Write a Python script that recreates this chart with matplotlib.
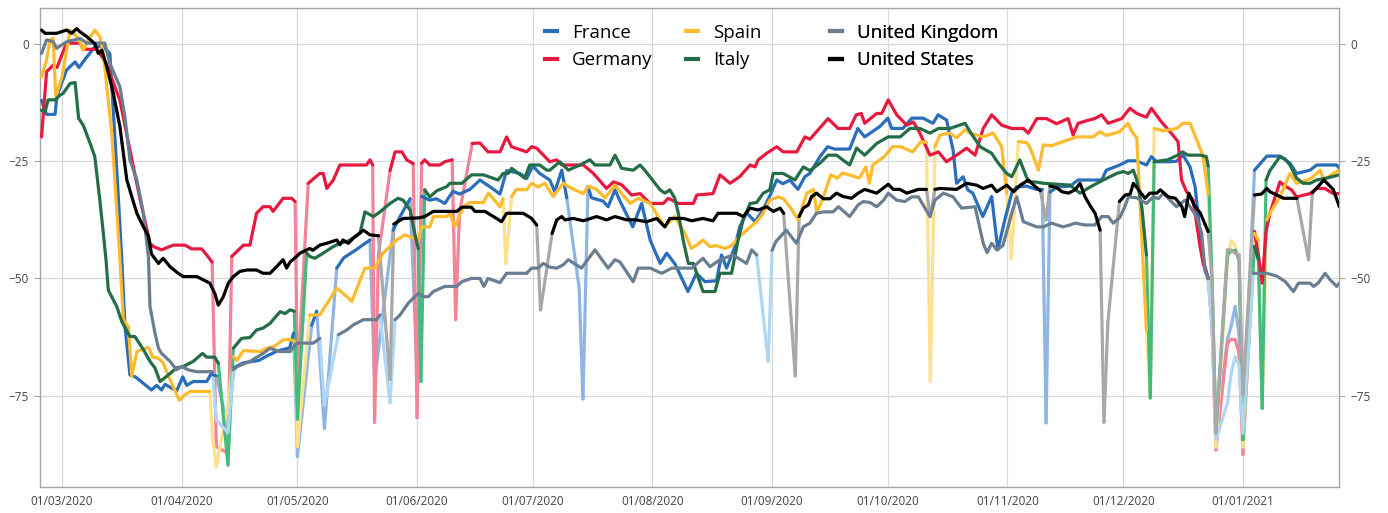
import numpy as np
import pandas as pd
import matplotlib
matplotlib.use("Agg")
import matplotlib.pyplot as plt
import matplotlib.dates as mdates
from matplotlib.collections import LineCollection
from matplotlib.lines import Line2D

# Workplace mobility change vs baseline (%), weekday readings.
# Day numbers count from 01/03/2020; "hol" lists mark holiday readings,
# whose connecting segments are drawn in the lighter shade.
START = pd.Timestamp("2020-03-01")

france = [(-5.3,-12),(-4,-15),(-1.8,-15),(-1.3,-11),(1.2,-5.5),(3.4,-3.8),(4.4,-5),(6.2,-3),(8.5,-0.6),(10.6,-0.5),(12.4,-2),(14,-24),(15.5,-46),(16.3,-60),(17.6,-70.6),(19,-71),(23.2,-73.8),(24.5,-72.8),(25.8,-73.8),(26.7,-72.6),(29.7,-74),(31.3,-71),(32.3,-72.8),(34,-72),(37.5,-72),(38.6,-70.4),(40,-70.8),(43,-82),(44.6,-69),(47,-68),(51,-67.5),(53,-66.6),(55.7,-65.5),(59,-64.8),(60,-61.7),(61,-88),(64.7,-60),(66,-57),(68,-82),(71.2,-47.8),(73,-45.6),(76,-44),(79.8,-41.8),(81,-72),(85.8,-39.7),(87.6,-36.8),(90.2,-33),(92,-70),(93.2,-32.5),(95.3,-33.3),(97,-33),(99.2,-34),(101.3,-31.4),(103,-32),(105.7,-31),(108.3,-29),(111,-30.5),(113.5,-32),(115.2,-27),(118.7,-27.6),(120.4,-28.7),(122,-26),(123.8,-27.6),(126.4,-29),(127.7,-31.5),(129.5,-26.9),(130.8,-32.8),(134,-52),(135,-75.7),(136.3,-30.4),(137.2,-32.8),(140.2,-33.5),(141.5,-34.7),(143.3,-31.1),(144.6,-33.5),(147.9,-39),(150.2,-34),(152.4,-41.8),(155,-46.8),(156.7,-44.6),(158.9,-47),(162.2,-52.8),(164.4,-48.9),(166.6,-50.7),(169.6,-50.5),(170.9,-45),(172.2,-47.8),(174.4,-43.2),(175.6,-39),(177.4,-36),(179.6,-37.9),(181.6,-35.4),(183.4,-32.4),(185.2,-29),(186.8,-29.8),(188.6,-29),(190.7,-31),(192.5,-28.3),(193.8,-27.6),(196.4,-24),(198.4,-21.9),(200.2,-22.4),(204.1,-22.4),(206.2,-18),(208,-19.8),(211.9,-17.6),(214,-15.8),(215,-18),(217.9,-18),(220.2,-15.8),(223.1,-15.8),(225.7,-16.9),(227,-15.1),(229.2,-16.2),(230.9,-22.6),(231.8,-29.7),(233.5,-28.3),(234.7,-31.1),(236,-31.8),(238.6,-36.8),(240.9,-32.5),(242.5,-43.9),(244.3,-37.5),(246.1,-31.8),(247.3,-30.5),(249.9,-30.3),(252.5,-31),(254,-31),(255,-80.8),(256,-31.6),(257.8,-30.5),(261.2,-30.3),(263.3,-29),(269.4,-29),(270.6,-26.9),(274.1,-25.8),(276.2,-24.9),(278.4,-24.9),(281,-25.8),(282.3,-24),(283.6,-25.1),(287.1,-25.1),(288.8,-25),(290.5,-23.7),(292.3,-26.2),(293.6,-30.4),(294.9,-40.3),(295.7,-46),(297,-50),(298,-60),(299,-83.7),(302,-63),(303,-60),(304,-56),(305,-62),(306,-83),(309,-26.9),(312.2,-23.9),(315.6,-23.9),(318.2,-25.4),(319.9,-27.6),(323.4,-26.9),(325.1,-25.8),(330.3,-25.8),(331,-26.5)]
france_hol = [43, 61, 68, 81, 92, 134, 135, 255, 298, 299, 302, 303, 304, 305, 306]

germany = [(-5.3,-19.8),(-4,-5.9),(-2.3,-4.5),(-1.3,-5),(0.3,-1.6),(1.2,0.2),(4.7,0.2),(5.5,-1.1),(9,-1.1),(11.4,-4),(15,-12),(17.6,-22.6),(20.2,-33),(22.8,-42.5),(23.7,-43.2),(25.8,-43.9),(28.8,-42.9),(31.9,-42.9),(33.6,-43.7),(36.2,-43.7),(37.5,-45),(38.9,-46.5),(40,-85.9),(43,-87.3),(44,-45.3),(47,-42.9),(48.7,-42.9),(50.4,-36.1),(52.1,-34.7),(53.9,-34.7),(54.7,-35.7),(57.3,-32.9),(59.5,-32.9),(60.4,-33.6),(61,-72),(63.8,-29.7),(66.8,-27.6),(67.7,-27.6),(68.6,-30.8),(70.3,-29),(72,-25.8),(78.9,-25.8),(79.8,-24.7),(80.5,-25.8),(81,-80.7),(82,-45),(85,-27),(86.3,-23),(88.1,-23),(89.3,-24.7),(91,-25.5),(92,-79.7),(93.2,-25.4),(94,-24.7),(95.3,-25.8),(97.9,-25.8),(99.2,-25.1),(101.1,-24.7),(102,-58.8),(103,-36),(106.3,-21.2),(108.3,-21.1),(110.4,-23),(113.5,-23),(115.2,-19.8),(116.5,-21.9),(120.4,-23),(121.7,-21.9),(123,-22.2),(126.4,-25.1),(128.2,-24.7),(129.5,-25.8),(135.1,-25.8),(137.7,-27.6),(141.1,-30.8),(142.9,-29.4),(145,-30),(147.6,-32.2),(149.8,-31.9),(152.4,-34),(155.8,-34),(157.1,-32.9),(159.7,-34),(163.6,-34),(164.5,-32.2),(168.7,-31.9),(170.5,-27.9),(173.1,-29.7),(175.6,-28.3),(178.3,-25.8),(179.6,-26.2),(180.4,-24.7),(182.6,-23.3),(185.2,-21.9),(186.9,-23),(190.4,-23),(192.5,-19.8),(193.8,-20.3),(195.5,-18.7),(198.5,-15.9),(201.1,-18),(204.1,-18),(205.8,-15.1),(207.1,-14.8),(208,-16.9),(211.1,-14.8),(212.4,-14.8),(214.1,-11.9),(216.3,-15.1),(218.9,-17.3),(220.6,-16.6),(222.3,-19),(224.9,-23.7),(227.1,-23),(229.2,-25.1),(231.8,-23.7),(234.4,-22.2),(236.6,-23.7),(238.7,-18),(240.9,-15.1),(243.5,-17.3),(246.1,-18),(249.1,-18),(250.4,-19),(252.6,-15.9),(255.1,-15.9),(257.7,-17),(260.7,-15.9),(262,-19.4),(263.3,-16.9),(265.3,-16.4),(267.6,-15.9),(269.4,-15.1),(271.1,-16.9),(274.6,-15.9),(276.7,-13.7),(278.5,-14.8),(281,-15.6),(282.3,-13.7),(284.5,-16.2),(287.1,-18.7),(289.2,-20.8),(290.1,-29),(291.4,-31.5),(293.1,-33.3),(294.9,-43.2),(295.7,-46.8),(297,-50),(298,-60),(299,-86.6),(302,-63.8),(303,-63),(304,-63.1),(305,-66),(306,-87.6),(309,-40),(310,-45),(311,-51),(312,-40),(313,-36.1),(315.6,-29.4),(316.9,-30.3),(318.6,-31.1),(319.9,-32.6),(323.4,-31.9),(325.1,-30.8),(327.2,-30.8),(329.4,-31.9),(331,-31.9)]
germany_hol = [40, 43, 61, 81, 82, 92, 102, 103, 298, 299, 302, 303, 304, 305, 306]

spain = [(-5.3,-7),(-4,-3.4),(-3.1,0.9),(-2.3,1.2),(-1.6,-11.2),(0,-7),(1.2,-1.3),(2.1,3),(2.9,2.3),(4,1.5),(5.5,-1.3),(6.8,0.9),(8.5,3),(9.8,1.6),(10.7,-2),(12.9,-19),(15,-46),(15.9,-58.8),(17.2,-60.3),(18.1,-70.9),(19.4,-65.6),(22.4,-64.7),(23.5,-66.8),(24.9,-67),(26.2,-68),(28,-71.6),(30.4,-76),(31.9,-74.8),(33.2,-74.1),(38.3,-74.1),(39,-83.7),(40,-90.1),(43,-77),(44.4,-66.7),(45.3,-67.5),(47,-65.4),(51.3,-65.6),(53,-64.9),(55,-64.5),(57.3,-63.1),(59.1,-63),(60.4,-63.5),(61,-85.9),(64.2,-57.8),(66.8,-57.8),(71.2,-52.1),(72.9,-53.2),(75.1,-54.9),(78.5,-47.8),(81.1,-47.8),(83.2,-44.6),(86.7,-41.8),(88.9,-40.7),(92.3,-41.8),(93.2,-39),(95.3,-39),(96.2,-36.8),(99.7,-36.8),(100.5,-36.1),(101.8,-39),(104,-34.7),(105.7,-33.8),(109.2,-33.8),(110.5,-31.8),(113.5,-34.7),(114.3,-33),(115,-46.8),(116.5,-32.5),(117.8,-31),(120.4,-31.1),(121.7,-29.7),(123.3,-30.5),(125.1,-29.7),(127.3,-32.5),(128.2,-31.5),(129.9,-29.7),(132.1,-30.8),(135.1,-31.9),(136.4,-30.3),(138.5,-31),(140.7,-32.8),(143.3,-30.1),(144.6,-31.5),(147.2,-34),(149.3,-32.9),(152.4,-34),(154.5,-36.8),(156.2,-39),(158.8,-36.8),(161.4,-40.4),(163.1,-43.6),(164.4,-42.9),(166.1,-41.8),(167.9,-43.2),(169.6,-43),(171.8,-43.6),(173.5,-43),(175.2,-41.4),(177.4,-39.7),(180,-37.9),(181.7,-36.1),(183.4,-33.3),(185.6,-32.6),(186.9,-33),(188.6,-34.7),(190.8,-37.5),(193,-31.8),(194.7,-31),(195.6,-36),(197.3,-32.6),(199.2,-27.9),(200.9,-28.6),(202.3,-27.5),(204.4,-28),(206.6,-28.6),(208.3,-26.2),(209.2,-29.7),(210.1,-25.8),(213.1,-24),(215.2,-21.9),(217.4,-21.9),(220.4,-23),(222.6,-20.8),(224,-21),(225,-72),(226.2,-21.9),(227.5,-19.4),(230.1,-19),(231.8,-20),(234,-18.3),(235.3,-19),(238.7,-19.8),(241.3,-19),(243.5,-21.9),(244.8,-31.8),(246,-45.7),(247.8,-20.8),(250,-21),(250.8,-22),(253,-26.9),(254.3,-21.5),(256.4,-21.7),(259.4,-20.8),(262.9,-19.8),(264.6,-19.8),(267.2,-19.8),(268.9,-18.7),(270.6,-19.5),(274.1,-18.7),(276.2,-16.9),(277.5,-19),(278.5,-20),(281,-61),(282,-75.2),(283,-18),(285.4,-18.5),(288.8,-18),(290.5,-16.9),(292.3,-16.9),(294.4,-21.2),(295.7,-24),(297,-32),(298,-55),(299,-86),(302,-46),(303,-42),(304,-43),(305,-46),(306,-86),(309,-40.4),(310,-41.8),(311,-77.3),(312.2,-37.5),(313,-36.1),(315.6,-32.6),(318.2,-27.6),(319.9,-29.7),(321.6,-29.3),(323.8,-28.6),(326,-26.9),(327,-29),(329.4,-27.6),(331,-26.9)]
spain_hol = [39, 40, 43, 61, 115, 225, 246, 282, 298, 299, 302, 303, 304, 305, 306, 311]

italy = [(-5.3,-14.1),(-4.4,-14.5),(-3.6,-11.9),(-1.8,-11.9),(-0.5,-10.9),(0.3,-10.5),(2.1,-8.4),(3.4,-8.2),(4.3,-15.8),(5.5,-17.3),(7.3,-21.2),(8.5,-24),(9.8,-33.3),(10.7,-40.3),(11.4,-46),(12,-52.5),(14.2,-56),(15.5,-59.2),(17.6,-62.4),(18.9,-62.4),(21.1,-65.2),(22.8,-67.7),(24.1,-69.1),(25.4,-72),(27.1,-70.9),(29.7,-69.1),(31.4,-68.8),(34,-67.7),(36.4,-66),(37.5,-66.8),(39.6,-66.8),(40.5,-68.1),(43,-89.8),(44.4,-64.9),(46.5,-62.8),(48.7,-62.6),(50.4,-61),(52.1,-60.6),(53.9,-59.6),(56.5,-57.1),(57.8,-57.5),(59.1,-56.7),(60.2,-57),(61,-80),(63.4,-44.6),(64.2,-45.3),(65.5,-45.7),(67.7,-44.6),(70.3,-43.2),(72,-42.5),(74.2,-42),(77.2,-40.4),(78.5,-35.8),(80.7,-36.8),(82.4,-35.8),(85,-34),(87.1,-32.9),(88.4,-33.3),(90.2,-35.4),(91.4,-40.4),(92.3,-43.6),(93,-72),(94,-31.1),(95.3,-32.6),(97.1,-31.3),(99.7,-30.4),(100.5,-29.7),(103.6,-29.7),(106.1,-27.9),(109.2,-27.9),(113,-29),(114.3,-27.6),(115.6,-27.6),(116.5,-26.5),(119.9,-28.6),(121.2,-25.8),(123.8,-25.8),(125.6,-26.9),(126.4,-26.9),(129,-25.1),(131.2,-26.9),(134.2,-25.8),(136.8,-24.7),(138.1,-25.8),(142,-25.8),(143.3,-23.7),(145,-26.5),(148,-26.9),(149.8,-25.8),(151,-26.9),(155,-31.1),(156.2,-31.8),(157.5,-31.1),(158.8,-32.9),(159.7,-36.1),(161,-42),(162.3,-46.8),(163.6,-46.8),(166.1,-52.8),(169.2,-52.8),(170.5,-48.9),(173.5,-48.9),(175.2,-41.8),(176.5,-37.5),(178.3,-34),(180,-33.8),(181.7,-31.8),(183.4,-31.1),(184.3,-27.6),(186.9,-27.6),(189.9,-29),(192.1,-26.2),(193.8,-27),(196.4,-25.4),(198.5,-23.7),(200.7,-23.7),(204.1,-25.8),(205.9,-22.2),(208,-23.7),(211.1,-21.2),(214.1,-19.8),(217.2,-19.8),(219.7,-18),(222.3,-18),(224.9,-19),(227.1,-18),(230.1,-18),(234,-16.9),(235.3,-18.7),(237.9,-21.9),(240.9,-23.3),(242.6,-25.4),(244.8,-27.6),(246.1,-28.3),(248.2,-24.7),(250.4,-29.4),(252.1,-29.4),(254.3,-29.7),(261.2,-30.1),(263.8,-31.8),(266.4,-30.5),(269.8,-29),(273.3,-27.6),(275,-27.2),(276.3,-27.6),(277.6,-26.9),(278.5,-29),(279.8,-34.7),(281,-45),(282,-75.5),(283,-25.1),(286.5,-24.7),(289.1,-23.7),(290.4,-23),(291.7,-23.7),(295,-23.7),(296.5,-24),(297,-26),(298,-50),(299,-83),(302,-45),(303,-44),(304,-44),(305,-46),(306,-84.4),(309,-43.2),(310,-46),(311,-77.7),(312,-29),(313,-27),(315.6,-24),(316.9,-24.5),(318.2,-25.8),(319.9,-28.6),(321.6,-29.7),(323.4,-29.7),(325.1,-29),(327.6,-28.6),(331,-27.9)]
italy_hol = [43, 61, 93, 282, 298, 299, 302, 303, 304, 305, 306, 311]

uk = [(-5.3,-2),(-4,0.9),(-2.3,0.5),(-1.4,-0.9),(1.2,0.5),(4.7,1.2),(6.4,0.2),(11.1,0.2),(12.4,-4.1),(15,-9.1),(16.3,-15.5),(17.6,-24.7),(19.4,-29),(21.1,-36.1),(22.4,-45.5),(22.8,-56),(24.1,-61.7),(25,-64.9),(25.8,-66),(28,-67.7),(29.7,-69.5),(31,-68.8),(32.7,-69.5),(34.9,-69.9),(39,-69.9),(40,-80.2),(43,-82.9),(44.4,-69.5),(45.4,-68.8),(48.7,-67.7),(52.1,-66),(53.9,-64.9),(56.5,-65.6),(59.1,-65.6),(60.8,-63.8),(65.1,-63.8),(66.8,-62.8),(68,-77),(71.6,-62),(73.8,-61),(75.5,-59.9),(78.1,-58.8),(81.5,-58.8),(82.4,-57.8),(85,-76.5),(86.3,-58.8),(87.6,-57.8),(89.7,-55.3),(92.3,-53.2),(93.6,-53.9),(94.9,-53.9),(96.2,-52.8),(99.2,-51.7),(102.3,-51.7),(103.6,-50.7),(106.1,-50),(108.3,-50),(109.3,-51.7),(110.4,-50),(113.5,-50.9),(115.2,-48.9),(120.4,-48.9),(121.7,-47.8),(123.4,-47.8),(124.7,-46.8),(126.4,-47.6),(128.2,-47.8),(129.9,-47.1),(131.2,-46),(134.6,-47.8),(138.1,-43.9),(141.5,-47.8),(143.3,-46),(144.6,-46.5),(148,-50.7),(149.3,-47.8),(152.4,-47.8),(155.4,-48.9),(158,-47.8),(163.2,-47.8),(166.1,-45.7),(167.9,-47.5),(170.5,-46),(173.9,-45),(177.4,-46.8),(178.7,-43.9),(180,-45),(183,-67.7),(184,-44),(185,-42.1),(187.7,-39.7),(190.3,-42.5),(192.1,-39),(193.8,-38.2),(195.5,-36.1),(197.3,-35.8),(199.8,-35.8),(201.2,-34.7),(204.1,-36.8),(206.3,-34.3),(207.6,-33.6),(209.4,-33.8),(211.1,-34.7),(212.9,-33.3),(214.1,-31.8),(216.3,-33.3),(218.4,-33.6),(220.2,-32.6),(221.9,-32.6),(224.9,-36.8),(226.2,-33.3),(228.4,-31.8),(230.9,-32.6),(233.1,-35),(236.6,-34.7),(238.7,-42.5),(239.7,-44.5),(240.9,-42.5),(242.2,-43.9),(243.8,-43),(246.1,-36.1),(247.4,-32.6),(249.1,-37.9),(252.6,-39),(254.3,-39),(256.4,-38.2),(259.4,-39),(261.2,-38.6),(262.5,-38.2),(265.1,-38.6),(267.6,-38.6),(269.4,-36.8),(271.1,-36.8),(272.4,-38.2),(274.1,-37),(275.4,-34.7),(276.3,-32.6),(278.5,-32.8),(281,-34),(282.8,-32.6),(284.1,-33),(285.4,-31.8),(287.1,-33.3),(288.8,-34.7),(291,-33.3),(292.3,-34.7),(294,-36.8),(295.3,-40.4),(296.2,-48.5),(297,-50),(298,-60),(299,-84.4),(302,-76.6),(303,-70),(304,-66.7),(305,-68.4),(306,-83),(308.7,-48.9),(310,-48.9),(312.2,-48.9),(314.8,-49.5),(317,-50.7),(319.1,-52.8),(320.4,-51),(323.4,-51),(324.3,-51.7),(325.5,-51),(327.3,-48.9),(328.6,-50.3),(330.3,-51.7),(331,-51)]
uk_hol = [40, 43, 68, 85, 183, 298, 299, 302, 303, 304, 305, 306]

us = [(-5.3,3),(-4.4,2.3),(-1.4,2.3),(1.2,3),(2.5,2.3),(3.8,3.3),(4.7,2.6),(6.4,1.6),(8.5,0.1),(9.4,-2),(10.3,-1.3),(11.6,-4.8),(13.3,-10.5),(15,-17.6),(16.8,-29),(18.1,-32.6),(19.4,-36.1),(21.1,-39),(22.4,-41),(23.2,-44.8),(25,-46.8),(26.2,-45.7),(28,-47.5),(30.1,-48.9),(31.4,-49.6),(34.9,-49.6),(36.6,-50.3),(38.3,-51),(39.6,-53.2),(40.5,-55.7),(41.8,-53.9),(43.1,-51),(44.4,-49.6),(46.1,-48.5),(47.9,-48.2),(50.4,-48.2),(52.1,-48.9),(53.9,-48.9),(55.6,-47.5),(57.3,-46),(58.2,-47.8),(59.1,-46.5),(60.8,-45.3),(61.7,-44.6),(64.2,-43.6),(65,-44),(66.8,-42.9),(68.6,-42.5),(71.2,-41.8),(72,-42.8),(72.8,-41.8),(74.2,-42.5),(75.5,-41.4),(78.1,-39.7),(79.8,-40.7),(82,-40.9),(85,-71.6),(86,-38.4),(88.4,-37.2),(92.3,-37.1),(94,-36.8),(96.2,-35.7),(102.3,-35.7),(103.6,-34.8),(106.1,-34.8),(107,-35.7),(109.6,-35.7),(112.6,-37.2),(113.9,-37.9),(115.2,-36.1),(119.5,-36.1),(121.7,-37.2),(123,-38.6),(124,-56.7),(127,-40.4),(128.2,-37.5),(129.5,-36.8),(130.3,-37.5),(132.5,-37.2),(135.1,-37.7),(138.5,-36.8),(141.1,-37.5),(143.3,-36.8),(146.3,-37.5),(148.7,-37.5),(151.5,-37.9),(154.1,-37.2),(156.2,-39),(157.5,-37.2),(161,-37.2),(163.2,-37.7),(166.1,-37.2),(168.7,-37.7),(170,-36.1),(174.8,-36.1),(176.5,-36.8),(178.3,-35),(180.4,-35.4),(182.6,-34.7),(184.3,-35.7),(186.1,-35),(187,-36.1),(190,-70.8),(191,-36.8),(192.1,-35),(193.4,-34.3),(194.2,-32.6),(195.5,-31.8),(197.3,-33),(199,-33),(200.7,-31.8),(202.3,-32.5),(204.6,-32.9),(206.3,-31.8),(208,-31),(211.1,-31.8),(214.1,-29.9),(215.4,-31),(217.1,-31),(218.9,-31.8),(221.9,-31),(224,-31),(225,-36.8),(226.2,-31),(227.5,-30.8),(231.8,-31),(234.4,-29.7),(237,-30.1),(238.7,-30.8),(240.9,-30.1),(242.2,-31.5),(244.8,-30.1),(246.6,-31.5),(248.3,-30.1),(250.4,-29),(251.8,-30.1),(253.5,-31.3),(255,-37.5),(256,-30.3),(257.7,-30.6),(259.1,-31.5),(260.8,-31.8),(262.5,-31.1),(263.8,-29.7),(265.1,-32.6),(266.8,-35),(267.7,-36.1),(269,-39.7),(270,-80.7),(271,-59.5),(274,-33.6),(275.5,-32.2),(276.8,-32),(277.6,-29.7),(278.9,-31),(280.6,-32.9),(281.9,-31.8),(283.7,-31.8),(284.6,-31.1),(286.7,-32.6),(288.5,-32.9),(290.2,-34.7),(290.9,-36.8),(292,-31.8),(293.3,-34.3),(295,-36.1),(295.9,-37.9),(297,-40),(298,-50),(299,-83),(302,-43.9),(303,-44),(304,-44.6),(305,-45),(306,-74.8),(309,-32.2),(310.8,-32),(312.2,-30.8),(313,-31.5),(314.8,-32.2),(316.5,-32.9),(320,-32.9),(323,-46),(324,-31.7),(327,-29),(329.4,-31),(331,-34.7)]
us_hol = [85, 124, 190, 225, 255, 270, 271, 298, 299, 302, 303, 304, 305, 306, 323]

labels = ["France", "Germany", "Spain", "Italy", "United Kingdom", "United States"]
series = [france, germany, spain, italy, uk, us]
holidays = [france_hol, germany_hol, spain_hol, italy_hol, uk_hol, us_hol]
colors = ["#2a6ebb", "#e8193f", "#fdbb2d", "#236e47", "#6b7e91", "#000000"]
light_colors = ["#8fb5e3", "#f2839a", "#fee18c", "#44bb7b", "#afd7f2", "#a8a8a8"]

plt.rcParams["font.family"] = ["Open Sans", "DejaVu Sans"]

W, H = 1388, 513
fig = plt.figure(figsize=(W / 100, H / 100), dpi=100)
ax = fig.add_axes([40 / W, 26 / H, 1299 / W, 479 / H])

base = mdates.date2num(START)
LW = 2.3

for i, (pts, hol) in enumerate(zip(series, holidays)):
    days = np.array([p[0] for p in pts], dtype=float)
    vals = np.array([p[1] for p in pts], dtype=float)
    x = base + days
    is_h = np.isin(days, np.array(hol, dtype=float))
    # light segments: any segment touching a holiday reading
    segs = []
    for k in range(len(x) - 1):
        if is_h[k] or is_h[k + 1]:
            segs.append([(x[k], vals[k]), (x[k + 1], vals[k + 1])])
    lc = LineCollection(segs, colors=light_colors[i], linewidths=LW,
                        capstyle="round", joinstyle="round", zorder=2 + i * 0.1)
    ax.add_collection(lc)
    # main line with holiday readings removed
    y_main = np.where(is_h, np.nan, vals)
    ax.plot(x, y_main, color=colors[i], lw=LW, solid_joinstyle="round",
            solid_capstyle="round", zorder=3 + i * 0.1)

ax.set_xlim(base - 5.7, base + 330.9)
ax.set_ylim(-94.5, 7.7)
ax.set_yticks([0, -25, -50, -75])
ax.xaxis.set_major_locator(mdates.MonthLocator())
ax.xaxis.set_major_formatter(mdates.DateFormatter("%d/%m/%Y"))

ax.grid(True, color="#d9d9d9", lw=0.9, zorder=0)
ax.set_axisbelow(True)
for s in ax.spines.values():
    s.set_color("#a6a6a6")
    s.set_linewidth(1.0)
ax.tick_params(axis="y", left=True, right=True, labelleft=True, labelright=True,
               length=4, color="#a6a6a6", labelsize=8.5, labelcolor="#444444", pad=4)
ax.tick_params(axis="x", length=0, labelsize=8.5, labelcolor="#444444", pad=6)

# legend: three columns of two entries each
handles = [Line2D([0], [0], color=c, lw=3) for c in colors]
col_x = [(545 - 40) / 1299, (686 - 40) / 1299, (830 - 40) / 1299]
for j in range(3):
    leg = ax.legend(handles[2 * j:2 * j + 2], labels[2 * j:2 * j + 2],
                    loc="upper left", bbox_to_anchor=(col_x[j], 0.967),
                    frameon=False, fontsize=13.5, handlelength=0.65,
                    handletextpad=0.8, labelspacing=0.5, borderpad=0,
                    borderaxespad=0)
    ax.add_artist(leg)

fig.savefig("out.png", dpi=100)
